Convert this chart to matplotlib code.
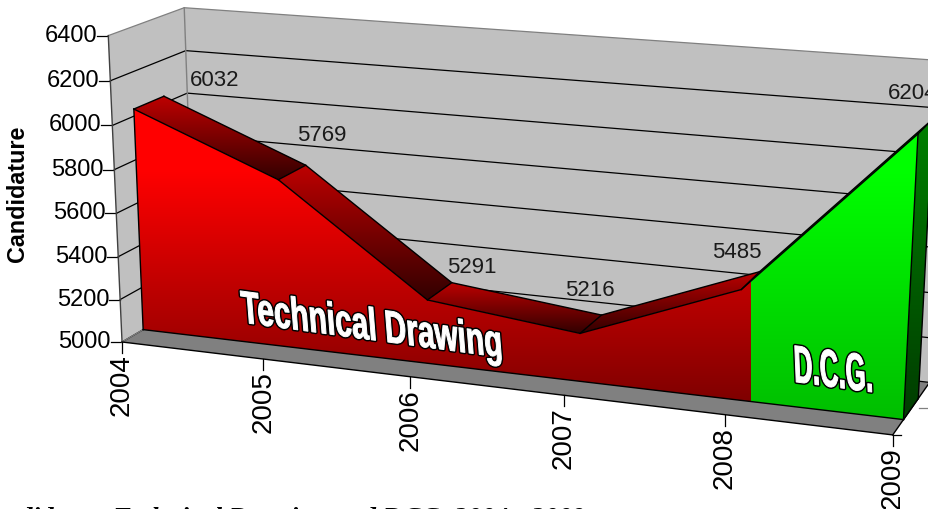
#!/usr/bin/env python3
import numpy as np
import matplotlib
matplotlib.use("Agg")
import matplotlib.pyplot as plt
import matplotlib.patheffects as pe
from matplotlib.patches import Polygon
from matplotlib.transforms import Affine2D

years = [2004, 2005, 2006, 2007, 2008, 2009]
candidates = [6032, 5769, 5291, 5216, 5485, 6204]
y_ticks = [5000, 5200, 5400, 5600, 5800, 6000, 6200, 6400]
y_min, y_max = 5000, 6400
series_title = "Candidates: Technical Drawing and DCG, 2004 - 2009"
y_label = "Candidature"

depth_front, depth_back = 0.28, 0.68

# known spots (year frac, value frac, depth) -> pixel, used to fit the perspective
box_corners = [
    ((0, 0, 0), (122, 342)), ((0, 1, 0), (109, 35)), ((1, 0, 0), (893, 435)),
    ((0, 1, 1), (183, 8)), ((0, 0, 1), (196, 300)), ((1, 0, 1), (930, 381)),
    ((1, 1, 1), (951, 69)),
    ((.2, 0, 0), (263, 360)), ((.4, 0, 0), (410, 379)), ((.6, 0, 0), (565, 398)), ((.8, 0, 0), (724, 417)),
]
front_px = [(135, 109), (279, 179), (430, 299), (580, 332), (741, 288), (916, 131)]
rear_px = [(163, 96), (304, 165), (450, 282), (601, 313), (758, 270), (932, 116)]

label_offsets = [(51, -16), (16, -30), (20, -15), (-12, -25), (-23, -19), (-20, -25)]
RED_TOP, RED_BOT = (255, 0, 0), (128, 0, 0)
GREEN_TOP, GREEN_BOT = (0, 255, 0), (0, 190, 0)


def fit_projection(pairs):
    A, b = [], []
    for (x, y, z), (u, v) in pairs:
        A.append([x, y, z, 1, 0, 0, 0, 0, -u*x, -u*y, -u*z])
        A.append([0, 0, 0, 0, x, y, z, 1, -v*x, -v*y, -v*z])
        b += [u, v]
    p = np.linalg.lstsq(np.array(A, float), np.array(b, float), rcond=None)[0]
    return np.append(p, 1).reshape(3, 4)


def vfrac(v):
    return (v - y_min) / (y_max - y_min)


pairs = list(box_corners)
for i, v in enumerate(candidates):
    pairs.append(((i / 5, vfrac(v), depth_front), front_px[i]))
    pairs.append(((i / 5, vfrac(v), depth_back), rear_px[i]))
P = fit_projection(pairs)


def proj(x, y, z):
    w = P @ np.array([x, y, z, 1.0])
    return w[0] / w[2], w[1] / w[2]


def pt(i, value, z):
    return proj(i / (len(years) - 1), vfrac(value), z)


def gradient(ax, pts, top, bot, y0=None, y1=None, x0=None, x1=None):
    # vertical colour ramp clipped to a polygon, flat outside y0..y1
    pts = np.array(pts)
    ya, yb = pts[:, 1].min(), pts[:, 1].max()
    y0 = ya if y0 is None else y0
    y1 = yb if y1 is None else y1
    x0 = pts[:, 0].min() if x0 is None else x0
    x1 = pts[:, 0].max() if x1 is None else x1
    rows = np.linspace(ya, yb, 256)
    t = np.clip((rows - y0) / (y1 - y0), 0, 1)[:, None, None]
    img = (np.array(top)[None, None, :] * (1 - t) + np.array(bot)[None, None, :] * t) / 255
    im = ax.imshow(img, extent=(x0, x1, yb, ya), aspect="auto", interpolation="bilinear", zorder=3)
    im.set_clip_path(Polygon(pts, closed=True, transform=ax.transData))


class WordArt(pe.AbstractPathEffect):
    # condensed glyphs on a sloped baseline, white with a black outline
    def __init__(self, anchor, sx, slope, lean, lw):
        super().__init__()
        self.anchor, self.sx, self.slope, self.lean, self.lw = anchor, sx, slope, lean, lw

    def draw_path(self, renderer, gc, tpath, affine, rgbFace):
        ax_, ay_ = self.anchor
        warp = (Affine2D().translate(-ax_, -ay_)
                + Affine2D.from_values(self.sx, -self.slope * self.sx, -self.lean, 1, 0, 0)
                + Affine2D().translate(ax_, ay_))
        aff = affine + warp
        gc0 = renderer.new_gc()
        gc0.copy_properties(gc)
        gc0.set_linewidth(self.lw)
        gc0.set_foreground("black")
        gc0.set_joinstyle("round")
        renderer.draw_path(gc0, tpath, aff, (0, 0, 0, 1))
        gc0.set_linewidth(0.7)
        gc0.set_foreground("white")
        renderer.draw_path(gc0, tpath, aff, (1, 1, 1, 1))
        gc0.restore()


def wordart(ax, s, x, y, size, sx, slope, lean, lw):
    anchor = ax.transData.transform((x, y))
    t = ax.text(x, y, s, fontsize=size, fontweight="bold", color="white",
                ha="center", va="baseline", zorder=8,
                family=["Liberation Sans", "DejaVu Sans"])
    t.set_path_effects([WordArt(anchor, sx, slope, lean, lw)])


def main():
    plt.rcParams["font.family"] = ["Liberation Sans", "DejaVu Sans"]
    fig = plt.figure(figsize=(9.29, 5.09), dpi=100)
    ax = fig.add_axes([0, 0, 1, 1])
    ax.set_xlim(0, 929)
    ax.set_ylim(509, 0)
    ax.axis("off")

    # walls and floor
    wall = "#C0C0C0"
    ax.add_patch(Polygon([proj(0, 0, 0), proj(0, 1, 0), proj(0, 1, 1), proj(0, 0, 1)], fc=wall, ec="none", zorder=1))
    ax.add_patch(Polygon([proj(0, 0, 1), proj(0, 1, 1), proj(1, 1, 1), proj(1, 0, 1)], fc=wall, ec="none", zorder=1))
    ax.add_patch(Polygon([proj(0, 0, 0), proj(1, 0, 0), proj(1, 0, 1), proj(0, 0, 1)], fc="#808080", ec="none", zorder=2))
    for v in y_ticks:
        f = vfrac(v)
        c = "#808080" if v == y_max else "black"
        pts = np.array([proj(0, f, 0), proj(0, f, 1), proj(1, f, 1)])
        ax.plot(pts[:, 0], pts[:, 1], color=c, lw=0.9, zorder=2)
        ux, uy = proj(0, f, 0)
        ax.plot([ux - 11, ux], [uy, uy], color="black", lw=0.9, zorder=2)
        ax.text(ux - 11, uy, str(v), ha="right", va="center", fontsize=17, color="black", zorder=9)
    back = np.array([proj(0, 0, 1), proj(0, 1, 1)])
    ax.plot(back[:, 0], back[:, 1], color="#808080", lw=1.0, zorder=2)
    ax.plot(*zip(proj(0, 0, 0), proj(0, 1, 0)), color="#404040", lw=1.0, zorder=2)
    ax.plot(*zip(proj(0, 0, 0), proj(0, 0, 1)), color="#808080", lw=0.9, zorder=2)
    ax.plot(*zip(proj(0, 0, 0), proj(1, 0, 0)), color="black", lw=1.0, zorder=2)
    ax.plot(*zip(proj(1, 0, 0), proj(1, 0, 1)), color="black", lw=1.0, zorder=2)

    # year ticks and labels
    for i, yr in enumerate(years):
        ux, uy = pt(i, y_min, 0)
        ax.plot([ux, ux], [uy, uy + 11], color="black", lw=0.9, zorder=2)
        ax.text(ux, uy + 12, str(yr), rotation=90, ha="center", va="top", fontsize=20, color="black", zorder=9)

    # short depth-axis ticks at the right corner
    ux, uy = proj(1, 0, 0)
    ax.plot([ux, ux + 8], [uy, uy], color="black", lw=0.9, zorder=2)
    ux, uy = proj(1, 0, 0.5)
    ax.plot([ux + 7, ux + 18], [uy, uy], color="#808080", lw=0.9, zorder=2)

    n = len(years)
    front = [pt(i, candidates[i], depth_front) for i in range(n)]
    rear = [pt(i, candidates[i], depth_back) for i in range(n)]
    base_f = [pt(i, y_min, depth_front) for i in range(n)]
    base_b = [pt(i, y_min, depth_back) for i in range(n)]
    split_x = base_f[-2][0] + 13

    # top faces, each with its own ramp
    for i in range(n - 1):
        poly = [front[i], rear[i], rear[i + 1], front[i + 1]]
        if i < n - 2:
            gradient(ax, poly, (190, 0, 0), (50, 0, 0))
        else:
            gradient(ax, poly, (190, 0, 0), (90, 0, 0), x1=split_x)
            gradient(ax, poly, (0, 128, 0), (0, 90, 0), x0=split_x)

    # right side of the last year
    side = [front[-1], rear[-1], base_b[-1], base_f[-1]]
    gradient(ax, side, (0, 128, 0), (0, 60, 0))

    # front face: red up to 2008, green after
    face = front + [base_f[-1], base_f[0]]
    gradient(ax, face, RED_TOP, RED_BOT, y0=170, y1=400, x1=split_x)
    gradient(ax, face, GREEN_TOP, GREEN_BOT, y0=170, y1=base_f[-1][1], x0=split_x)

    edge = dict(color="black", lw=1.0, zorder=5, solid_joinstyle="round")
    fr, rr = np.array(front), np.array(rear)
    ax.plot(*fr.T, **edge)
    ax.plot(*rr.T, **edge)
    for i in range(n):
        ax.plot(*zip(front[i], rear[i]), **edge)
    ax.plot(*zip(front[0], base_f[0]), **edge)
    ax.plot(*zip(front[-1], base_f[-1]), **edge)
    ax.plot(*zip(rear[-1], base_b[-1]), **edge)
    ax.plot(*zip(base_f[-1], base_b[-1]), **edge)
    ax.plot(*zip(base_f[0], base_f[-1]), **edge)

    # data labels
    for i, v in enumerate(candidates):
        dx, dy = label_offsets[i]
        ax.text(rear[i][0] + dx, rear[i][1] + dy, str(v), ha="center", va="center", fontsize=16, color="#1a1a1a", zorder=9)

    ax.text(18, 194, y_label, rotation=90, ha="center", va="center", fontsize=16.8, fontweight="bold", color="black", zorder=9)
    ax.text(585, 526, series_title, ha="right", va="baseline", fontsize=19.5, fontweight="bold", fontstyle="italic",
            family=["Liberation Serif", "DejaVu Serif"], color="black", zorder=9)

    fig.canvas.draw()
    wordart(ax, "Technical Drawing", 373, 340, 33, 0.65, 0.135, 0.08, 2.8)
    wordart(ax, "D.C.G.", 834, 387, 38, 0.49, 0.133, 0.04, 2.8)
    fig.savefig("out.png", dpi=100)


if __name__ == "__main__":
    main()
